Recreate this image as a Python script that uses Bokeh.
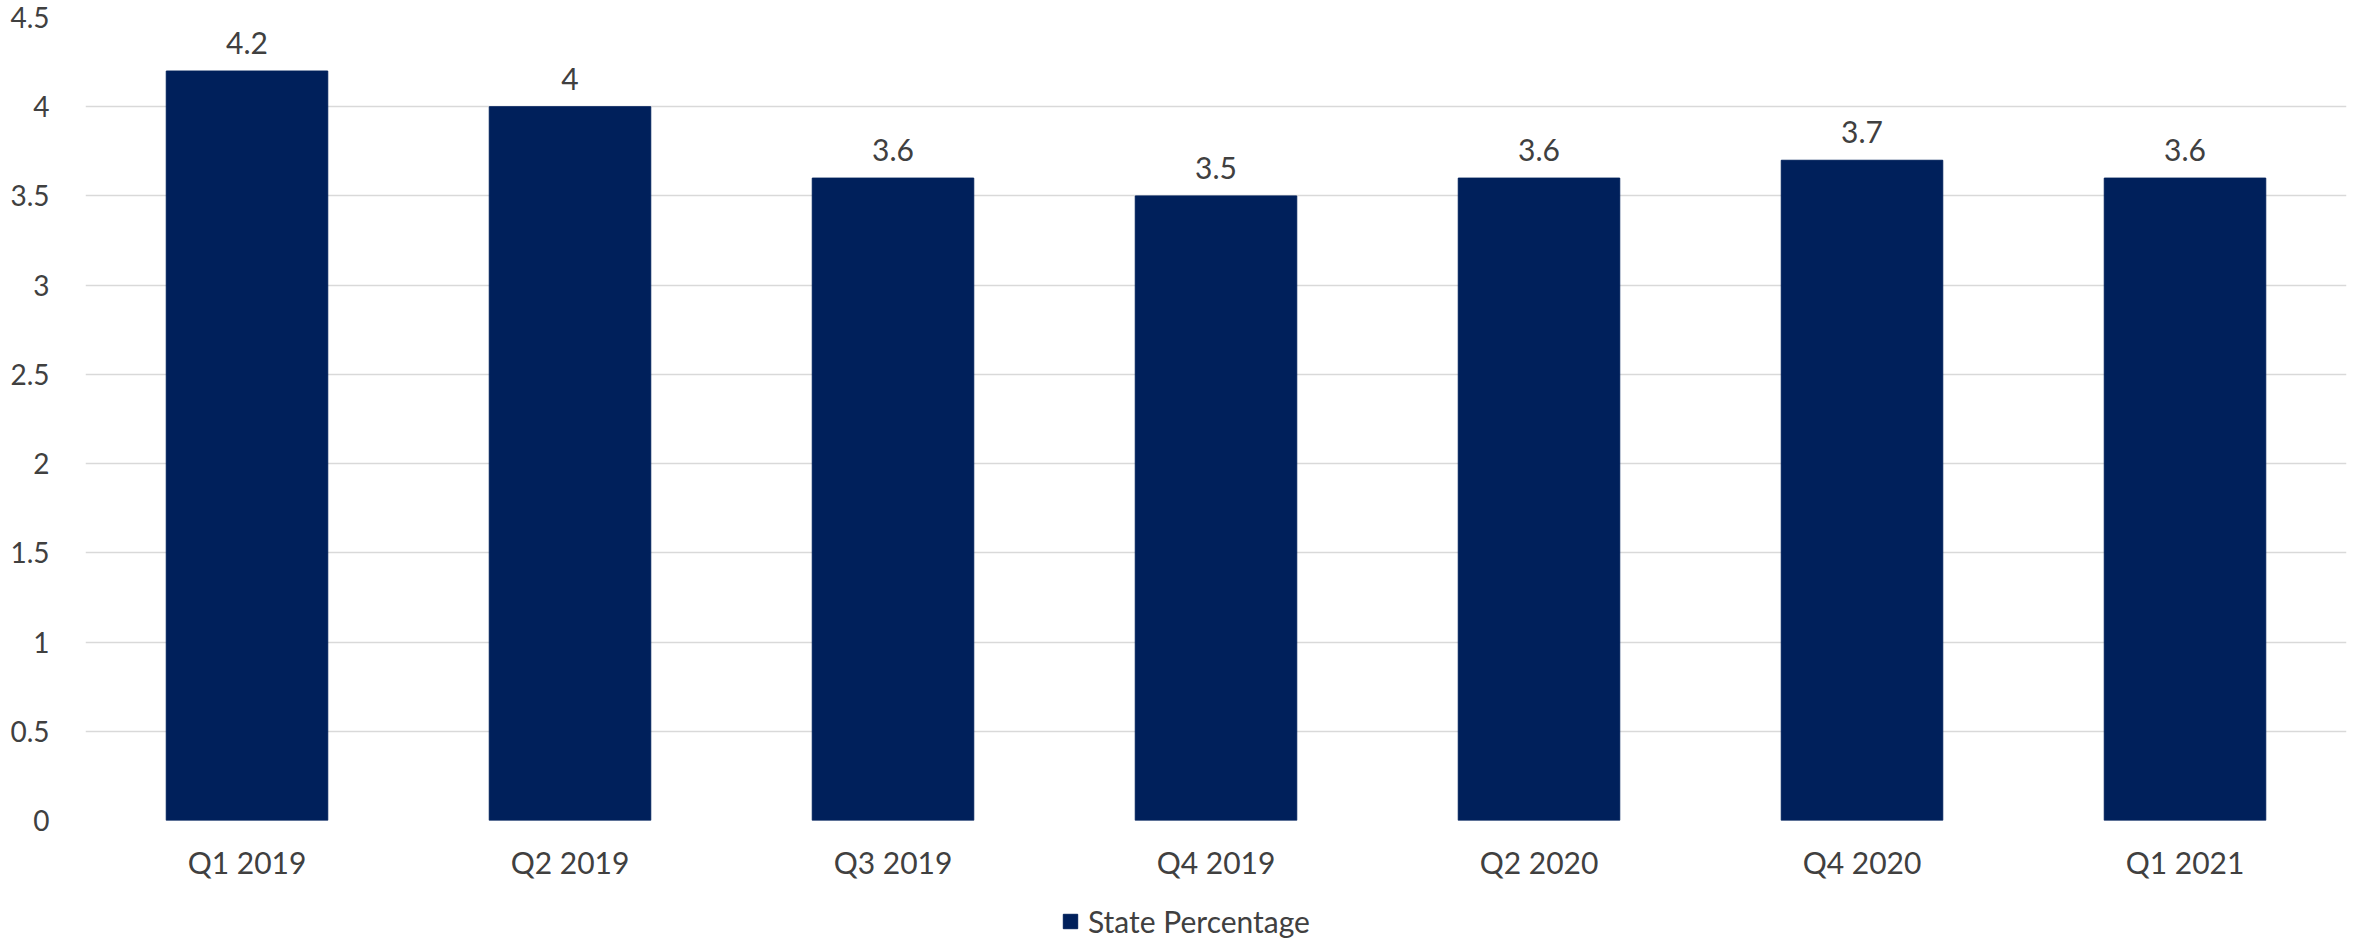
from bokeh.plotting import figure
from bokeh.models import ColumnDataSource, Legend, LegendItem, FixedTicker
from bokeh.layouts import column
from bokeh.embed import file_html
from bokeh.resources import INLINE
from bokeh.core.properties import value

categories = ["Q1 2019", "Q2 2019", "Q3 2019", "Q4 2019", "Q2 2020", "Q4 2020", "Q1 2021"]
state_pct = [4.2, 4.0, 3.6, 3.5, 3.6, 3.7, 3.6]
labels = ["4.2", "4", "3.6", "3.5", "3.6", "3.7", "3.6"]
y_ticks = [0, 0.5, 1, 1.5, 2, 2.5, 3, 3.5, 4, 4.5]
series_name = "State Percentage"

FONT = "Lato"
TXT = "#404040"
BAR = "#00205B"
FS = "30px"

src = ColumnDataSource(dict(cat=categories, val=state_pct, lab=labels))

p = figure(x_range=categories, y_range=(0, 4.5), width=2361, height=895,
           output_backend="svg", toolbar_location=None,
           min_border_left=85, min_border_right=15, min_border_top=17, min_border_bottom=75)
p.outline_line_color = None

r = p.vbar(x="cat", top="val", width=0.5, source=src, fill_color=BAR, line_color=BAR)
p.text(x="cat", y="val", text="lab", source=src, text_align="center", text_baseline="middle",
       y_offset=-28, text_font=value(FONT), text_font_size=FS, text_color=TXT)

p.xgrid.grid_line_color = None
p.ygrid.grid_line_color = "#d9d9d9"
p.ygrid.grid_line_width = 1.5
p.yaxis.ticker = FixedTicker(ticks=y_ticks)
for ax in (p.xaxis[0], p.yaxis[0]):
    ax.axis_line_color = None
    ax.major_tick_line_color = None
    ax.minor_tick_line_color = None
    ax.major_label_text_font = FONT
    ax.major_label_text_color = TXT
p.xaxis.major_label_text_font_size = FS
p.yaxis.major_label_text_font_size = "28px"
p.yaxis.major_label_standoff = 30
p.xaxis.major_label_standoff = 17

# legend strip below the chart
p2 = figure(width=2361, height=46, x_range=(0, 1), y_range=(0, 1),
            output_backend="svg", toolbar_location=None,
            min_border_left=85, min_border_right=15, min_border_top=0, min_border_bottom=0)
p2.outline_line_color = None
p2.axis.visible = False
p2.grid.visible = False
swatch = p2.vbar(x=[-10], top=[-10], width=0.5, fill_color=BAR, line_color=BAR)
legend = Legend(items=[LegendItem(label=series_name, renderers=[swatch])],
                orientation="horizontal", location=(976, 2),
                label_text_font=FONT, label_text_font_size=FS, label_text_color=TXT,
                glyph_width=18, glyph_height=18, border_line_color=None,
                background_fill_alpha=0, padding=0, margin=0, label_standoff=9)
p2.add_layout(legend, "center")

layout = column(p, p2, spacing=0)
open("out.html", "w").write(file_html(layout, INLINE))
